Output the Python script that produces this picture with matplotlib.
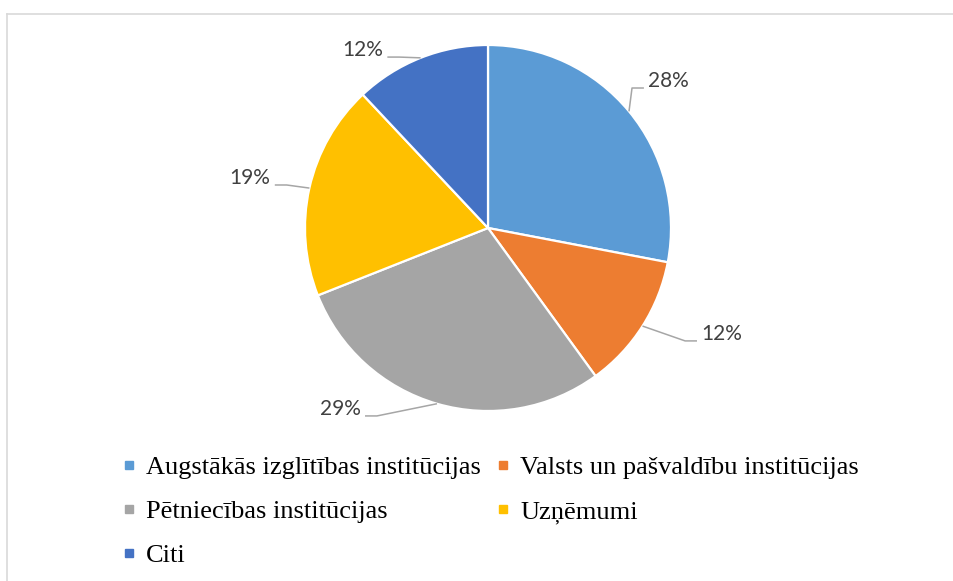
import numpy as np
import matplotlib
matplotlib.use("Agg")
import matplotlib.pyplot as plt
from matplotlib.lines import Line2D

categories = ["Augstākās izglītības institūcijas", "Valsts un pašvaldību institūcijas",
              "Pētniecības institūcijas", "Uzņēmumi", "Citi"]
shares = [28, 12, 29, 19, 12]
colors = ["#5B9BD5", "#ED7D31", "#A5A5A5", "#FFC000", "#4472C4"]

# leader line elbows (data units, radius = 1) and which side the label sits on
elbows = [(0.787, 0.765), (1.077, -0.617), (-0.607, -1.027), (-1.10, 0.235), (-0.485, 0.934)]
sides = [1, 1, -1, -1, -1]

W, H = 954, 581
R = 183.0
cx, cy = 488, 228

fig = plt.figure(figsize=(W / 100, H / 100), dpi=100)
ax = fig.add_axes([0, 0, 1, 1])

# chart frame (top and left edges visible)
fig.add_artist(Line2D([7.5 / W, 1], [1 - 13.5 / H, 1 - 13.5 / H], color="#D9D9D9", lw=1.2))
fig.add_artist(Line2D([7.5 / W, 7.5 / W], [0, 1 - 13.5 / H], color="#D9D9D9", lw=1.2))

wedges, _ = ax.pie(shares, colors=colors, startangle=90, counterclock=False, radius=1,
                   wedgeprops=dict(edgecolor="white", linewidth=1.6))
# pie() resets the limits, so set them afterwards
ax.set_xlim(-cx / R, (W - cx) / R)
ax.set_ylim(-(H - cy) / R, cy / R)
ax.set_aspect("equal")
ax.axis("off")

total = sum(shares)
cum = 0
for i, v in enumerate(shares):
    mid = 90 - (cum + v / 2) / total * 360
    cum += v
    ex, ey = np.cos(np.radians(mid)), np.sin(np.radians(mid))
    bx, by = elbows[i]
    s = sides[i]
    hx = bx + s * 0.065
    ax.plot([ex, bx, hx], [ey, by, by], color="#A6A6A6", lw=1.1, solid_capstyle="butt")
    ax.text(hx + s * 0.025, by + 0.005, f"{v}%", ha="left" if s > 0 else "right",
            va="baseline", fontsize=15, color="#404040", family="Lato")

order = [0, 2, 4, 1, 3]
handles = [Line2D([], [], marker="s", linestyle="none", markersize=6,
                  markerfacecolor=colors[i], markeredgecolor=colors[i]) for i in order]
leg = fig.legend(handles, [categories[i] for i in order], ncol=2,
                 loc="upper left", bbox_to_anchor=(97 / W, 1 - 432 / H),
                 frameon=False, handlelength=0.6, handletextpad=0.35,
                 columnspacing=0.55, labelspacing=0.78,
                 prop=dict(family="Liberation Serif", size=19))

fig.savefig("out.png", dpi=100, facecolor="white")
